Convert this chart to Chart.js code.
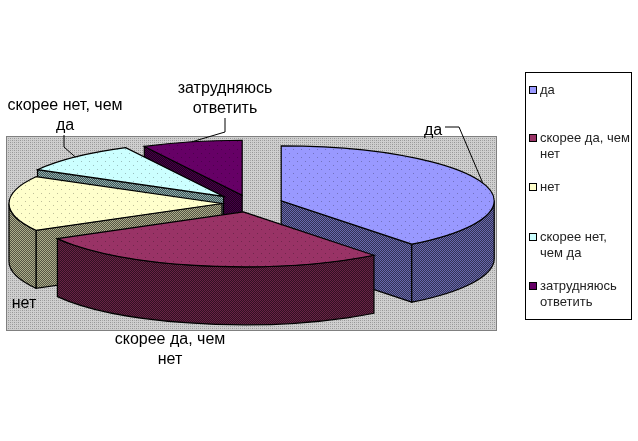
<!DOCTYPE html>
<html>
<head>
<meta charset="utf-8">
<style>
  html, body { margin: 0; padding: 0; background: #fff; }
  #wrap { width: 638px; height: 441px; }
</style>
<script src="https://cdn.jsdelivr.net/npm/chart.js@4"></script>
</head>
<body>
<div id="wrap"><canvas id="chart" width="638" height="441"></canvas></div>
<script>
const categories = ["да", "скорее да, чем нет", "нет", "скорее нет, чем да", "затрудняюсь ответить"];
const values = [39.5, 27.4, 16.2, 9.3, 7.6];
const colors = ["#9999FF", "#993366", "#FFFFCC", "#CCFFFF", "#660066"];
const explode = [33, 33, 28, 38, 33];

// fake 3d: squash the circle and pull every slice down by a fixed depth
const squash = 0.258;
const depth = 58;
const FONT = '"Liberation Sans", Arial, sans-serif';

function shade(hex, f) {
  const n = parseInt(hex.slice(1), 16);
  const r = Math.round((n >> 16) * f);
  const g = Math.round(((n >> 8) & 255) * f);
  const b = Math.round((n & 255) * f);
  return "rgb(" + r + "," + g + "," + b + ")";
}

function tile(size, base, dots) {
  const c = document.createElement("canvas");
  c.width = c.height = size;
  const x = c.getContext("2d");
  x.fillStyle = base;
  x.fillRect(0, 0, size, size);
  dots.forEach(function (d) {
    x.fillStyle = d[2];
    x.fillRect(d[0], d[1], 1, 1);
  });
  return x.createPattern(c, "repeat");
}

function wrapText(ctx, text, maxWidth) {
  const lines = [];
  let line = "";
  text.split(" ").forEach(function (word) {
    const next = line ? line + " " + word : word;
    if (line && ctx.measureText(next).width > maxWidth) {
      lines.push(line);
      line = word;
    } else {
      line = next;
    }
  });
  lines.push(line);
  return lines;
}

const pie3d = {
  id: "pie3d",
  beforeDatasetDraw(chart, args, opts) {
    const ctx = chart.ctx;
    const arcs = chart.getDatasetMeta(0).data;
    const bg = chart.data.datasets[0].backgroundColor;
    const slices = arcs.map(function (arc, i) {
      const mid = (arc.startAngle + arc.endAngle) / 2;
      return {
        i: i,
        mid: mid,
        a0: arc.startAngle,
        a1: arc.endAngle,
        r: arc.outerRadius,
        x: arc.x + explode[i] * Math.cos(mid),
        y: arc.y + explode[i] * squash * Math.sin(mid),
      };
    });

    ctx.save();
    // grey back wall
    ctx.fillStyle = tile(4, "#CFCFCF", [[0, 0, "#969696"], [2, 2, "#969696"], [2, 0, "#A8A8A8"], [0, 2, "#A8A8A8"]]);
    ctx.fillRect(opts.wall.left, opts.wall.top, opts.wall.width, opts.wall.height);
    ctx.strokeStyle = "#808080";
    ctx.lineWidth = 1;
    ctx.strokeRect(opts.wall.left + 0.5, opts.wall.top + 0.5, opts.wall.width - 1, opts.wall.height - 1);

    ctx.strokeStyle = "#000";
    ctx.lineWidth = 1.2;
    slices.slice().sort(function (a, b) { return Math.sin(a.mid) - Math.sin(b.mid); }).forEach(function (s) {
      const dark = shade(bg[s.i], 0.33);
      const side = tile(2, shade(bg[s.i], 0.68), [[1, 0, dark], [0, 1, dark]]);
      const top = tile(8, bg[s.i], [[1, 1, "rgba(0,0,0,0.25)"], [5, 5, "rgba(0,0,0,0.25)"]]);

      // flat side walls facing the viewer
      [[s.a0, -Math.cos(s.a0)], [s.a1, Math.cos(s.a1)]].forEach(function (edge) {
        if (edge[1] <= 0.001) return;
        const ex = s.x + s.r * Math.cos(edge[0]);
        const ey = s.y + s.r * squash * Math.sin(edge[0]);
        ctx.beginPath();
        ctx.moveTo(s.x, s.y);
        ctx.lineTo(ex, ey);
        ctx.lineTo(ex, ey + depth);
        ctx.lineTo(s.x, s.y + depth);
        ctx.closePath();
        ctx.fillStyle = side;
        ctx.fill();
        ctx.stroke();
      });

      // rim, only the front half of the ellipse shows
      const from = Math.max(s.a0, 0);
      const to = Math.min(s.a1, Math.PI);
      if (to > from) {
        ctx.beginPath();
        ctx.ellipse(s.x, s.y, s.r, s.r * squash, 0, from, to);
        ctx.ellipse(s.x, s.y + depth, s.r, s.r * squash, 0, to, from, true);
        ctx.closePath();
        ctx.fillStyle = side;
        ctx.fill();
        ctx.stroke();
      }

      ctx.beginPath();
      ctx.moveTo(s.x, s.y);
      ctx.ellipse(s.x, s.y, s.r, s.r * squash, 0, s.a0, s.a1);
      ctx.closePath();
      ctx.fillStyle = top;
      ctx.fill();
      ctx.stroke();
    });

    // data labels and their leader lines
    ctx.lineWidth = 1;
    ctx.font = "16px " + FONT;
    ctx.fillStyle = "#000";
    ctx.textAlign = "center";
    ctx.textBaseline = "middle";
    slices.forEach(function (s) {
      const pos = opts.labels[s.i];
      wrapText(ctx, chart.data.labels[s.i], 125).forEach(function (line, n) {
        ctx.fillText(line, pos.x, pos.y + n * 19.5);
      });
      if (pos.elbow) {
        ctx.beginPath();
        ctx.moveTo(pos.elbow[0], pos.elbow[1]);
        ctx.lineTo(pos.elbow[2], pos.elbow[3]);
        ctx.lineTo(s.x + s.r * Math.cos(s.mid), s.y + s.r * squash * Math.sin(s.mid));
        ctx.stroke();
      }
    });

    // legend box
    const box = opts.legend;
    ctx.fillStyle = "#fff";
    ctx.fillRect(box.left, box.top, box.width, box.height);
    ctx.strokeRect(box.left + 0.5, box.top + 0.5, box.width, box.height);
    ctx.font = "13px " + FONT;
    ctx.textAlign = "left";
    slices.forEach(function (s) {
      const rowY = box.rows[s.i];
      ctx.fillStyle = bg[s.i];
      ctx.fillRect(box.left + 4.5, rowY - 3.5, 7, 7);
      ctx.strokeStyle = "#000";
      ctx.strokeRect(box.left + 4.5, rowY - 3.5, 7, 7);
      ctx.fillStyle = "#222";
      wrapText(ctx, chart.data.labels[s.i], 91).forEach(function (line, n) {
        ctx.fillText(line, box.left + 15, rowY + n * 16);
      });
    });
    ctx.restore();
    return false;
  },
};

new Chart(document.getElementById("chart"), {
  type: "pie",
  data: {
    labels: categories,
    datasets: [{ data: values, backgroundColor: colors, borderWidth: 0 }],
  },
  options: {
    responsive: false,
    animation: false,
    radius: 213,
    layout: { padding: { left: 0, top: 0, right: 138, bottom: 34 } },
    plugins: {
      legend: { display: false },
      tooltip: { enabled: false },
      pie3d: {
        wall: { left: 6, top: 136, width: 491, height: 195 },
        legend: { left: 525, top: 72, width: 106, height: 247, rows: [90, 138, 187, 237, 286] },
        labels: [
          { x: 433, y: 131, elbow: [445, 127, 459, 127] },
          { x: 170, y: 340 },
          { x: 24, y: 304 },
          { x: 65, y: 106, elbow: [64, 135, 64, 147] },
          { x: 225, y: 89, elbow: [225, 118, 225, 132] },
        ],
      },
    },
  },
  plugins: [pie3d],
});
</script>
</body>
</html>
